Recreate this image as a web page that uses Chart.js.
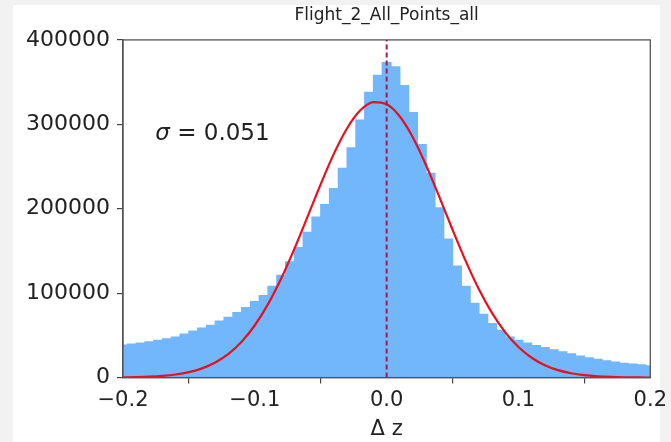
<!DOCTYPE html>
<html><head><meta charset="utf-8">
<script src="https://cdn.jsdelivr.net/npm/chart.js@4.4.0/dist/chart.umd.min.js"></script>
<style>
html,body{margin:0;padding:0;background:#f2f2f2;width:671px;height:442px;overflow:hidden;}
#panel{position:absolute;left:13px;top:5px;width:647px;height:437px;background:#fff;}
#wrap{position:absolute;left:0;top:0;width:671px;height:442px;}
</style></head><body>
<div id="panel"></div>
<div id="wrap"><canvas id="c" width="671" height="442"></canvas></div>
<script>
// ---- data ----
const chartTitle = 'Flight_2_All_Points_all';
const xAxisTitle = 'Δ z';
const sigmaSymbol = 'σ';
const sigmaText = ' = 0.051';

const binCenters = [
 -0.20000,-0.19333,-0.18667,-0.18000,-0.17333,-0.16667,-0.16000,-0.15333,-0.14667,-0.14000,
 -0.13333,-0.12667,-0.12000,-0.11333,-0.10667,-0.10000,-0.09333,-0.08667,-0.08000,-0.07333,
 -0.06667,-0.06000,-0.05333,-0.04667,-0.04000,-0.03333,-0.02667,-0.02000,-0.01333,-0.00667,
  0.00000,
  0.00667, 0.01333, 0.02000, 0.02667, 0.03333, 0.04000, 0.04667, 0.05333, 0.06000, 0.06667,
  0.07333, 0.08000, 0.08667, 0.09333, 0.10000, 0.10667, 0.11333, 0.12000, 0.12667, 0.13333,
  0.14000, 0.14667, 0.15333, 0.16000, 0.16667, 0.17333, 0.18000, 0.18667, 0.19333, 0.20000
];
const binCounts = [
  38500, 39800, 41000, 42200, 44000, 45800, 48000, 51500, 55000, 58500,
  62000, 67000, 71500, 77000, 83000, 90000, 97000,108000,121000,137000,
 154000,172000,190000,205000,224000,248000,272000,305000,338000,358000,
 373000,
 368000,346000,314000,276000,242000,201000,164000,132000,108000, 88000,
  75000, 64000, 56000, 48000, 44000, 41000, 38000, 35500, 33000, 30500,
  28000, 25500, 23500, 21500, 19800, 18300, 17000, 16000, 15000, 14000
];
const fitX = [
 -0.20,-0.19,-0.18,-0.17,-0.16,-0.15,-0.14,-0.13,-0.12,-0.11,-0.10,-0.09,-0.08,-0.07,-0.06,-0.05,-0.04,-0.03,-0.02,-0.01,
  0.00, 0.01, 0.02, 0.03, 0.04, 0.05, 0.06, 0.07, 0.08, 0.09, 0.10, 0.11, 0.12, 0.13, 0.14, 0.15, 0.16, 0.17, 0.18, 0.19, 0.20
];
const fitY = [
 250, 520, 1040, 1980, 3630, 6420, 10900, 17850, 28100, 42500, 62000, 87000, 117400, 152500, 190600, 229200, 265300, 295400, 316600, 326400,
 323900, 309300, 284200, 251300, 213900, 175100, 138000, 104600, 76300, 53600, 36200, 23500, 14700, 8860, 5130, 2860, 1540, 790, 390, 190, 90
];
const meanLineX = [0, 0];
const meanLineY = [0, 400000];
const xTickLabels = ['\u22120.2', '\u22120.1', '0.0', '0.1', '0.2'];
const yTickLabels = ['0', '100000', '200000', '300000', '400000'];
const sigmaAnchor = [-0.1755, 288000];

const FONT = '"DejaVu Sans", sans-serif';
const TXT = '#222';

const framePlugin = {
  id: 'frame',
  afterDatasetsDraw(chart) {
    const {ctx, chartArea: a, scales: {x, y}} = chart;
    ctx.save();
    ctx.strokeStyle = '#555';
    ctx.lineWidth = 1.3;
    ctx.strokeRect(a.left, a.top, a.right - a.left, a.bottom - a.top);
    ctx.fillStyle = TXT;
    ctx.textBaseline = 'middle';
    const px = x.getPixelForValue(sigmaAnchor[0]);
    const py = y.getPixelForValue(sigmaAnchor[1]);
    ctx.font = 'italic 23px ' + FONT;
    ctx.fillText(sigmaSymbol, px, py);
    const w = ctx.measureText(sigmaSymbol).width;
    ctx.font = '23px ' + FONT;
    ctx.fillText(sigmaText, px + w, py);
    ctx.restore();
  }
};

new Chart(document.getElementById('c'), {
  type: 'bar',
  data: {
    datasets: [
      {
        type: 'line',
        data: meanLineX.map((v, i) => ({x: v, y: meanLineY[i]})),
        borderColor: '#a01d4c',
        borderWidth: 2,
        borderDash: [5, 3],
        pointRadius: 0,
        fill: false,
        clip: 0
      },
      {
        type: 'line',
        data: fitX.map((v, i) => ({x: v, y: fitY[i]})),
        borderColor: '#e8101c',
        borderWidth: 2.2,
        pointRadius: 0,
        cubicInterpolationMode: 'monotone',
        fill: false,
        clip: 0
      },
      {
        type: 'bar',
        data: binCenters.map((v, i) => ({x: v, y: binCounts[i]})),
        backgroundColor: '#72b6fb',
        borderWidth: 0,
        inflateAmount: 0.6,
        barPercentage: 1.0,
        categoryPercentage: 1.0,
        clip: 0
      }
    ]
  },
  options: {
    responsive: false,
    animation: false,
    devicePixelRatio: 1,
    layout: {padding: {left: 13, right: 20, top: 4, bottom: 0}},
    plugins: {
      legend: {display: false},
      tooltip: {enabled: false},
      title: {
        display: true,
        text: chartTitle,
        color: TXT,
        fullSize: false,
        font: {family: FONT, size: 17, weight: 'normal'},
        padding: {top: 1, bottom: 14.5}
      }
    },
    scales: {
      x: {
        type: 'linear',
        min: -0.2, max: 0.2,
        offset: false,
        grid: {drawOnChartArea: false, drawTicks: true, tickLength: 6, color: '#444', lineWidth: 1.2},
        border: {display: true, color: '#555', width: 1.3},
        ticks: {
          stepSize: 0.1,
          color: TXT,
          padding: 4,
          maxRotation: 0,
          font: {family: FONT, size: 21},
          callback: (v, i) => xTickLabels[i]
        },
        title: {display: true, text: xAxisTitle, color: TXT, font: {family: FONT, size: 21}, padding: {top: 0, bottom: 0}}
      },
      y: {
        type: 'linear',
        min: 0, max: 400000,
        grid: {drawOnChartArea: false, drawTicks: true, tickLength: 6, color: '#444', lineWidth: 1.2},
        border: {display: true, color: '#555', width: 1.3},
        ticks: {
          stepSize: 100000,
          color: TXT,
          padding: 7,
          font: {family: FONT, size: 22},
          callback: (v, i) => yTickLabels[i]
        },
        afterFit: (s) => { s.width = 110; }
      }
    }
  },
  plugins: [framePlugin]
});
</script>
</body></html>
